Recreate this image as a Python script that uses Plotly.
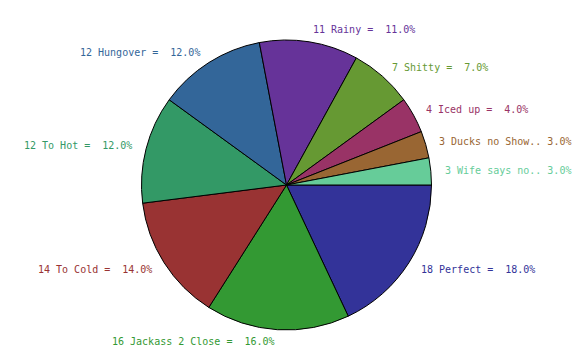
import math
import plotly.graph_objects as go

# ---- data ----
labels = ["Perfect", "Jackass 2 Close", "To Cold", "To Hot", "Hungover",
          "Rainy", "Shitty", "Iced up", "Ducks no Show..", "Wife says no.."]
values = [18, 16, 14, 12, 12, 11, 7, 4, 3, 3]
colors = ["#333399", "#339933", "#993333", "#339966", "#336699",
          "#663399", "#669933", "#993366", "#996633", "#66cc99"]

W, H = 573, 357
CX, CY, R = 286.5, 185, 145   # pie centre and radius in pixels
LR = 157                      # label anchor radius

fig = go.Figure(go.Pie(
    labels=labels, values=values, sort=False, direction="clockwise",
    rotation=90, marker=dict(colors=colors, line=dict(color="#000000", width=1)),
    textinfo="none", hoverinfo="label+value+percent", showlegend=False,
    domain=dict(x=[(CX - R) / W, (CX + R) / W],
                y=[(H - CY - R) / H, (H - CY + R) / H]),
))

total = sum(values)
cum = 0
annotations = []
for lab, v, c in zip(labels, values, colors):
    pct = 100.0 * v / total
    mid = (cum + v / 2) / total * 2 * math.pi   # clockwise from east (screen)
    cum += v
    px = CX + LR * math.cos(mid)
    py = CY + LR * math.sin(mid)
    if lab.endswith(".."):
        txt = f"{v} {lab} {pct:.1f}%"
    else:
        txt = f"{v} {lab} =  {pct:.1f}%"
    annotations.append(dict(
        x=px / W, y=1 - py / H, xref="paper", yref="paper",
        text=txt.replace(" ", "&nbsp;"),
        showarrow=False, xanchor="left" if math.cos(mid) > 0.02 else "right",
        yanchor="middle",
        font=dict(family="DejaVu Sans Mono", size=10, color=c),
    ))

fig.update_layout(
    width=W, height=H, margin=dict(l=0, r=0, t=0, b=0),
    paper_bgcolor="white", plot_bgcolor="white",
    annotations=annotations,
)
fig.write_html("out.html", config={"displayModeBar": False},
               post_script="document.body.style.margin='0';")
